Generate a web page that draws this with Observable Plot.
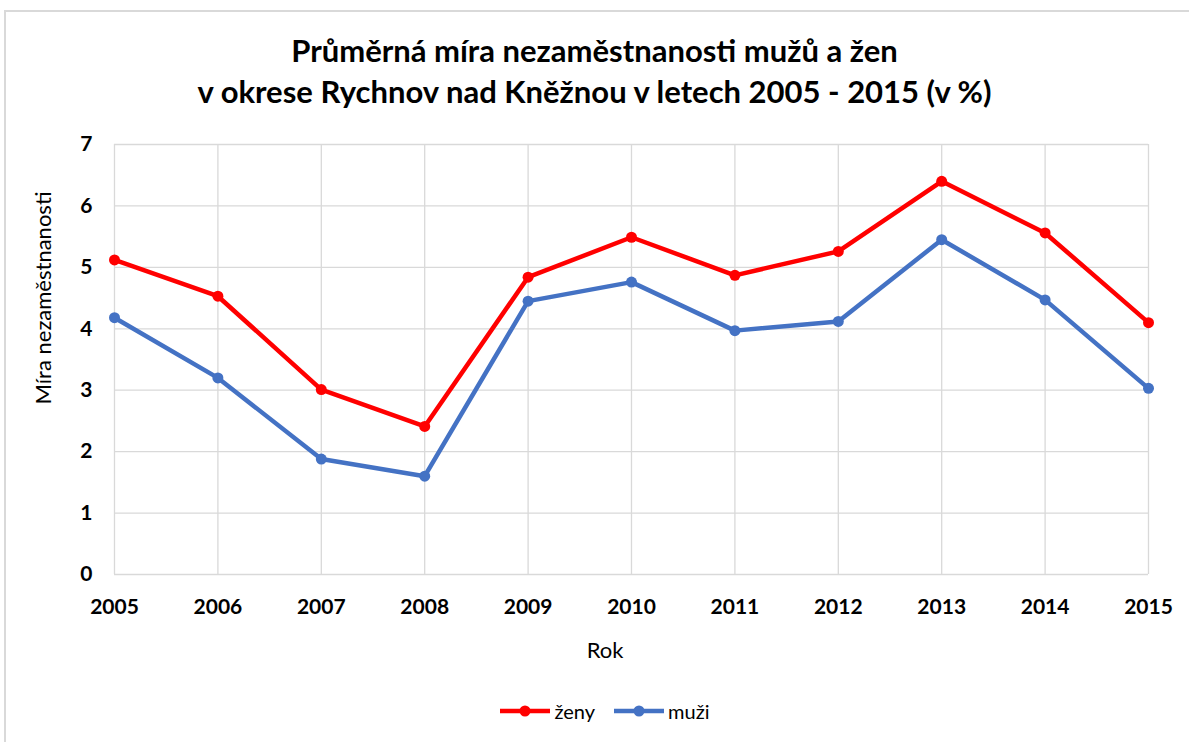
<!DOCTYPE html>
<html>
<head>
<meta charset="utf-8">
<script src="https://cdn.jsdelivr.net/npm/d3@7"></script>
<script src="https://cdn.jsdelivr.net/npm/@observablehq/plot@0.6"></script>
<style>
  html, body { margin: 0; padding: 0; background: #fff; overflow: hidden; width: 1189px; height: 742px; }
  #frame { position: absolute; left: 4px; top: 10px; width: 1240px; height: 800px; border: 2px solid #d9d9d9; box-sizing: border-box; }
  .t { position: absolute; font-family: Lato, "Open Sans", sans-serif; color: #000; white-space: nowrap; }
  #title { left: 0; width: 1189px; top: 30px; text-align: center; font-weight: bold; font-size: 31px; line-height: 41px; }
  #ylabel { left: 42px; top: 298px; font-size: 22px; transform: translate(-50%, -50%) rotate(-90deg); }
  #xlabel { left: 605px; top: 649px; font-size: 22px; transform: translate(-50%, -50%); }
  #legend { left: 10px; width: 1189px; top: 699px; display: flex; justify-content: center; gap: 18px; font-size: 20px; font-family: Lato, "Open Sans", sans-serif; }
  .item { display: flex; align-items: center; gap: 3px; }
  #chart { position: absolute; left: 0; top: 130px; }
</style>
</head>
<body>
<div id="frame"></div>
<div id="title" class="t">Průměrná míra nezaměstnanosti mužů a žen<br>v okrese Rychnov nad Kněžnou v letech 2005 - 2015 (v %)</div>
<div id="chart"></div>
<div id="ylabel" class="t">Míra nezaměstnanosti</div>
<div id="xlabel" class="t">Rok</div>
<div id="legend" class="t"></div>
<script>
const years = [2005, 2006, 2007, 2008, 2009, 2010, 2011, 2012, 2013, 2014, 2015];
const zeny = [5.12, 4.53, 3.01, 2.41, 4.84, 5.49, 4.87, 5.26, 6.40, 5.56, 4.10];
const muzi = [4.18, 3.20, 1.88, 1.60, 4.45, 4.76, 3.97, 4.12, 5.45, 4.47, 3.03];
const seriesNames = ["ženy", "muži"];
const seriesColors = ["#ff0000", "#4472c4"];
const yTicks = [0, 1, 2, 3, 4, 5, 6, 7];

const data = [
  ...years.map((y, i) => ({year: y, value: zeny[i], s: seriesNames[0]})),
  ...years.map((y, i) => ({year: y, value: muzi[i], s: seriesNames[1]}))
];

const font = "Lato, 'Open Sans', sans-serif";
const chart = Plot.plot({
  width: 1189,
  height: 560,
  marginLeft: 114,
  marginRight: 41,
  marginTop: 14,
  marginBottom: 116,
  style: {fontFamily: font, fontSize: "21px", fontWeight: "bold", color: "#000", background: "transparent"},
  x: {domain: [2005, 2015], ticks: years, tickFormat: "d", label: null},
  y: {domain: [0, 7], ticks: yTicks, tickFormat: "d", label: null},
  color: {domain: seriesNames, range: seriesColors},
  marks: [
    Plot.gridX(years, {stroke: "#d9d9d9", strokeOpacity: 1, strokeWidth: 1.3}),
    Plot.gridY(yTicks, {stroke: "#d9d9d9", strokeOpacity: 1, strokeWidth: 1.3}),
    Plot.axisX({ticks: years, tickFormat: "d", tickSize: 0, tickPadding: 25, label: null, fontSize: 21, fontWeight: "bold"}),
    Plot.axisY({ticks: yTicks, tickFormat: "d", tickSize: 0, tickPadding: 22, label: null, fontSize: 21, fontWeight: "bold"}),
    Plot.line(data, {x: "year", y: "value", stroke: "s", z: "s", strokeWidth: 4.5}),
    Plot.dot(data, {x: "year", y: "value", fill: "s", r: 5.5})
  ]
});
document.getElementById("chart").appendChild(chart);

const legend = document.getElementById("legend");
seriesNames.forEach((name, i) => {
  const item = document.createElement("div");
  item.className = "item";
  item.innerHTML = `<svg width="52" height="14"><line x1="1" y1="7" x2="51" y2="7" stroke="${seriesColors[i]}" stroke-width="4.5"/><circle cx="26" cy="7" r="5.5" fill="${seriesColors[i]}"/></svg><span>${name}</span>`;
  legend.appendChild(item);
});
</script>
</body>
</html>
